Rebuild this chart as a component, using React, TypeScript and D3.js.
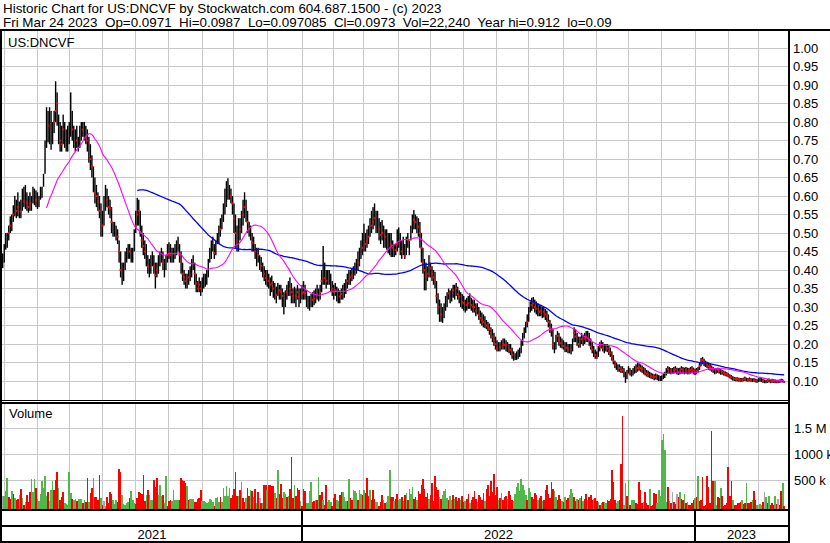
import React from 'react';
import * as d3 from 'd3';

const TITLE = 'Historic Chart for US:DNCVF by Stockwatch.com 604.687.1500 - (c) 2023';
const SUBTITLE = 'Fri Mar 24 2023  Op=0.0971  Hi=0.0987  Lo=0.097085  Cl=0.0973  Vol=22,240  Year hi=0.912  lo=0.09';
const SYMBOL = 'US:DNCVF';
const VOLUME_TITLE = 'Volume';
const FIRST_SESSION = [2021, 2, 31];
const PRICE_TICKS = [1.0, 0.95, 0.9, 0.85, 0.8, 0.75, 0.7, 0.65, 0.6, 0.55, 0.5, 0.45, 0.4, 0.35, 0.3, 0.25, 0.2, 0.15, 0.1];
const VOLUME_TICKS_K = [500, 1000, 1500];
const VOLUME_TICK_LABELS = ['500 k', '1000 k', '1.5 M'];
const MA_SHORT = 30;
const MA_LONG = 90;

// prices in thousandths of a dollar, one per weekday session
const CLOSE_MILLI = [
  420,440,480,470,500,520,528,550,573,560, 570,550,558,580,585,590,580,570,580,570,
  600,600,590,575,580,615,610,630,700,750, 790,820,740,780,800,830,850,780,750,740,
  780,760,730,750,760,820,780,760,740,750, 730,760,780,780,800,760,750,730,700,680,
  640,610,600,585,560,550,520,580,600,590, 570,565,530,500,510,500,490,450,400,380,
  390,420,440,450,450,430,440,480,520,550, 560,500,480,465,450,436,410,395,420,432,
  410,386,400,415,427,436,420,400,420,440, 445,440,432,440,450,465,472,440,427,390,
  380,370,368,380,391,400,418,390,364,350, 360,350,360,370,375,378,400,430,457,470,
  446,460,480,495,510,530,553,580,600,618, 610,600,580,540,500,480,480,510,530,550,
  570,562,530,510,504,474,470,450,432,440, 420,411,400,390,378,380,370,360,364,350,
  340,332,350,345,341,330,310,320,340,357, 350,340,330,332,330,340,328,330,337,340,
  337,320,310,308,315,320,324,330,335,332, 340,370,400,378,370,385,382,370,350,341,
  345,335,330,328,335,340,341,350,370,382, 380,385,391,400,410,420,427,450,460,477,
  470,480,490,510,520,530,540,520,530,510, 495,500,480,490,480,472,470,468,460,450,
  454,470,480,459,450,465,438,460,480,450, 500,520,535,530,520,517,500,460,420,400,
  382,390,400,405,390,380,373,330,300,287, 280,274,290,310,320,337,330,332,345,341,
  350,335,328,320,314,310,300,305,310,312, 305,300,300,290,296,280,270,265,260,255,
  250,247,240,230,220,211,200,188,190,192, 195,200,198,197,190,185,184,170,162,161,
  165,172,176,190,211,230,245,260,280,300, 305,310,300,296,290,287,290,285,287,280,
  274,260,245,238,200,184,200,222,210,202, 200,195,188,190,185,183,182,200,230,220,
  210,200,205,213,210,215,220,220,210,193, 185,178,170,164,180,193,200,190,184,190,
  188,180,175,166,155,143,140,132,135,130, 130,120,107,120,132,125,119,125,130,132,
  135,137,135,132,128,125,120,118,114,113, 112,110,112,110,108,105,107,112,115,125,
  132,130,128,128,130,132,128,125,128,132, 130,128,130,128,128,130,132,128,125,128,
  130,140,155,157,150,148,143,140,138,132, 130,125,128,130,128,125,125,122,119,118,
  115,112,110,107,106,105,105,104,103,103, 104,105,104,103,104,103,102,103,101,100,
  102,103,102,100,99,98,100,100,99,100, 100,99,98,98,99,100,100,97.3
];

const HIGH_MILLI = [
  445,470,500,500,520,545,550,575,600,590, 610,585,590,620,625,630,610,600,610,600,
  625,620,615,610,600,625,625,660,750,840, 830,840,830,800,830,910,880,820,800,790,
  820,800,780,790,800,880,830,790,780,790, 760,790,800,800,800,790,780,760,740,710,
  680,650,630,610,600,580,560,600,630,620, 600,590,570,530,530,520,510,480,450,420,
  420,450,460,470,470,460,460,510,560,595, 590,560,520,500,480,470,440,430,440,450,
  440,420,420,440,450,460,450,430,440,470, 475,470,460,460,470,480,490,470,450,420,
  400,390,390,400,410,430,440,420,390,370, 380,370,380,390,390,400,430,460,480,490,
  470,480,500,520,540,550,580,620,640,648, 630,620,600,580,550,520,540,540,560,590,
  610,590,560,530,520,500,490,470,460,460, 440,435,420,410,400,400,390,380,385,370,
  365,355,365,360,360,350,340,345,360,370, 380,365,350,355,350,360,350,350,360,370,
  360,345,330,330,335,340,345,350,360,350, 360,400,465,420,400,400,400,390,370,360,
  365,355,350,345,350,360,365,375,390,400, 400,405,410,420,430,450,460,480,500,525,
  500,510,520,540,560,570,580,560,560,540, 530,535,520,510,510,500,500,500,480,470,
  470,510,515,500,480,490,470,490,500,480, 520,550,562,550,545,540,530,500,460,430,
  420,410,440,420,410,400,395,370,337,320, 310,300,310,330,340,350,345,350,360,360,
  365,355,345,340,335,330,320,325,330,337, 325,320,320,310,310,300,290,285,280,275,
  265,260,255,245,240,230,220,210,205,205, 210,215,215,210,205,200,200,190,180,175,
  180,185,190,210,230,245,260,280,300,315, 325,327,320,315,310,305,305,300,300,295,
  290,280,265,255,240,205,225,235,230,220, 215,210,205,205,200,200,200,215,245,240,
  230,220,220,230,225,230,235,235,230,215, 205,195,185,180,195,205,210,205,200,200,
  200,195,190,180,170,155,150,145,145,140, 140,135,125,130,140,135,130,135,140,145,
  150,148,145,142,138,135,130,128,125,122, 120,118,120,118,116,114,115,120,125,135,
  140,138,135,135,138,140,136,135,136,140, 138,136,138,136,135,138,140,136,133,135,
  138,150,162,165,160,155,152,150,148,142, 138,133,134,136,135,132,130,128,126,124,
  121,118,116,113,111,110,110,109,108,108, 109,112,109,108,110,108,107,108,106,105,
  108,110,108,106,104,103,106,107,104,106, 105,104,103,103,104,106,105,98.7
];

const LOW_MILLI = [
  405,420,455,460,480,500,505,530,545,540, 545,540,540,560,570,565,560,555,560,560,
  580,575,570,565,570,590,595,625,660,730, 745,740,725,740,770,800,790,740,720,720,
  740,730,720,720,740,760,750,730,720,730, 720,730,750,760,750,740,720,690,670,650,
  610,580,570,560,540,490,490,520,560,570, 550,540,500,490,490,480,470,420,380,360,
  370,400,420,430,430,420,420,450,500,520, 520,490,460,440,430,410,390,380,390,410,
  390,350,380,390,410,420,400,380,400,420, 430,420,420,420,430,440,450,420,390,370,
  360,350,350,360,370,380,400,360,340,340, 340,330,340,350,355,360,380,420,430,450,
  430,440,470,470,490,510,530,550,570,590, 590,580,550,500,460,450,450,480,500,520,
  540,530,500,490,480,450,450,430,410,420, 400,395,380,370,360,355,350,330,340,325,
  320,310,330,320,320,300,280,300,320,330, 330,310,310,310,300,320,300,310,320,320,
  320,300,295,290,300,300,305,310,320,315, 320,340,360,360,350,360,360,340,330,320,
  330,315,310,310,320,320,325,335,350,360, 360,370,375,385,390,400,410,430,440,450,
  450,460,470,490,500,510,520,500,500,480, 470,480,460,460,455,445,440,435,435,435,
  440,450,460,440,430,440,430,440,460,440, 480,500,510,510,500,490,460,420,390,345,
  345,370,380,380,370,360,350,310,280,260, 260,257,270,290,300,320,310,315,325,320,
  330,320,310,300,295,290,285,290,295,295, 290,285,285,275,280,265,255,250,245,243,
  240,235,225,215,205,195,185,180,180,180, 185,185,185,180,178,175,170,160,155,157,
  157,160,165,175,195,215,230,245,260,285, 290,295,285,280,275,275,275,270,272,265,
  260,245,230,220,185,175,185,205,195,190, 188,185,178,178,175,175,172,180,205,205,
  195,190,190,200,195,200,205,205,195,185, 175,165,160,160,165,180,188,180,175,180,
  178,170,165,155,145,135,130,125,125,122, 122,110,95,105,120,115,112,115,120,122,
  125,128,125,122,118,115,112,110,108,106, 105,102,104,102,100,100,100,105,108,115,
  122,120,118,120,120,122,118,116,118,120, 120,118,120,118,118,120,122,118,116,118,
  122,130,140,145,140,138,135,130,128,125, 122,118,120,122,120,117,117,115,113,112,
  110,107,104,101,100,99,99,98,98,98, 99,100,99,98,99,98,97,98,96,95,
  97,98,97,95,94,94,95,96,94,95, 95,94,94,94,95,96,96,97.085
];

// volume in thousands of shares, one per session
const VOLUME_K = [
  210,210,305,550,190,150,305,245,170,135, 150,230,340,170,40,95,230,95,285,530,
  285,530,360,150,115,245,495,360,590,210, 285,115,325,495,325,515,665,360,135,190,
  285,75,55,40,665,265,150,135,150,115, 150,150,150,75,135,95,550,95,265,360,
  550,190,190,135,610,170,40,115,20,190, 75,285,245,135,55,135,95,720,665,230,
  55,40,75,95,170,305,135,75,55,170, 285,265,245,610,115,230,325,230,135,135,
  515,380,550,230,420,210,230,75,590,20, 115,135,115,325,135,135,135,135,550,515,
  495,455,400,135,150,150,150,95,95,150, 170,325,115,115,95,75,95,150,135,95,
  20,170,190,95,190,95,360,210,400,210, 360,170,230,340,665,210,210,325,475,170,
  95,170,360,210,325,305,190,340,75,285, 170,75,75,420,420,325,420,420,400,400,
  265,170,705,245,435,170,285,245,190,210, 340,950,170,420,210,360,325,115,20,340,
  305,75,75,305,475,95,115,135,135,570, 230,285,135,40,420,95,135,95,20,170,
  245,135,115,230,285,285,190,115,115,530, 170,135,325,305,265,135,325,245,230,325,
  265,550,210,325,135,325,150,95,95,20, 95,230,135,75,95,210,705,190,190,115,
  150,245,135,
  150,190,115,230,265,135,340,245,380,150, 190,135,305,245,420,530,340,190,265,150,
  230,455,115,590,380,325,190,150,230,305, 340,170,135,210,135,230,150,190,115,170,
  135,210,95,115,150,245,75,135,190,305, 150,95,230,190,135,265,115,340,420,210,
  495,285,625,230,380,135,170,265,135,190, 210,150,305,230,135,115,245,380,455,305,
  530,420,325,230,135,360,285,190,150,265, 230,135,170,210,115,135,325,420,245,170,
  475,340,305,190,135,230,150,115,95,190, 135,170,230,340,265,190,115,150,135,170,
  210,115,150,245,135,190,230,135,150,170,115,95,
  40,75,95,95,75,135,115,150,705,475, 135,75,115,135,815,1730,40,455,210,515,
  40,135,135,135,75,55,475,325,75,95, 285,75,40,340,20,40,265,245,75,325,
  210,1275,1385,1085,95,380,115,75,285,95, 55,245,190,285,150,135,245,75,95,40,
  40,75,135,170,190,590,115,135,570,20, 40,590,380,75,1445,495,495,40,190,170,
  360,210,20,40,75,760,210,495,135,40, 40,75,75,95,135,55,75,455,75,75,
  95,135,305,135,40,40,55,40,95,285, 190,75,210,40,75,40,210,55,150,40,
  305,455,22
];

// g = up session, r = down session, n = unchanged
const VOLUME_DIR = [
  'ngggrrgrgr','rgrgrgrrrg','ggrggggggg','rnggrrrgrr','rgggggrggr','gggrgrrgrr','grrrrgrngr',
  'rrrgggrrrg','ggggrgggrr','rrrrrgrggg','rrrgggrggr','rrgggggrrr','rrgrgggrrr','rrgggggggg',
  'rgggrggggg','grrrrrgrgr','rgrrgrgrgr','nrgrrgrrrr','grgrrrggrg','rrrgrrrgrr','rggggrrgrg',
  'rrgrrgggrr','rggrrgggrg','rrgggrggrg','rrrgrrrggr','rrgrgggrrg','rrg',
  'grgrgrgggr','rgrrrrrrrg','rrrrrrgrgg','ggrggrgrrr','grrgrrgrrr','rgrrrrgrrr','rrrrrgrgrr',
  'rgrrrggggg','ggggrggrrr','rgrrgrrrrr','rrggrrrgrg','rrgggrrgrg','rgrrgrrrgrrg',
  'rgrggrrrrr','rggrrrggrg','rgggrrrrrg','rrrgrrrrgg','gggggrgrnr','rnrgrrgrgr','rrrgrgrrrr',
  'rrrrrrggrr','grrrrrrrgr','rrrrgrrgrr','rgrrgnggrn','grgrrrgrnr','rgr'
].join('');

const W = 830;
const H = 543;
const PLOT_L = 2;
const PLOT_R = 788;
const PRICE_TOP = 31;
const PRICE_BOTTOM = 400;
const VOL_TOP = 403;
const VOL_BOTTOM = 509;
const FONT = '"Liberation Sans", Arial, Helvetica, sans-serif';
const GRID = '#c8c8c8';
const UP = '#50b848';
const DOWN = '#ff0000';
const FLAT = '#a8a8a8';

function sma(values: number[], n: number): (number | null)[] {
  const out: (number | null)[] = [];
  let sum = 0;
  for (let i = 0; i < values.length; i++) {
    sum += values[i];
    if (i >= n) sum -= values[i - n];
    out.push(i >= n - 1 ? sum / n : null);
  }
  return out;
}

export default function App() {
  const N = CLOSE_MILLI.length;
  const close = CLOSE_MILLI.map((v) => v / 1000);
  const high = HIGH_MILLI.map((v) => v / 1000);
  const low = LOW_MILLI.map((v) => v / 1000);

  // weekday sessions
  const dates: Date[] = [];
  let d = new Date(FIRST_SESSION[0], FIRST_SESSION[1], FIRST_SESSION[2]);
  while (dates.length < N) {
    const wd = d.getDay();
    if (wd !== 0 && wd !== 6) dates.push(new Date(d));
    d = d3.timeDay.offset(d, 1);
  }
  const monthStarts: number[] = [];
  const yearStarts: number[] = [];
  dates.forEach((dt, i) => {
    if (i === 0) {
      monthStarts.push(0);
      return;
    }
    if (dt.getMonth() !== dates[i - 1].getMonth()) monthStarts.push(i);
    if (dt.getFullYear() !== dates[i - 1].getFullYear()) yearStarts.push(i);
  });

  const x = d3.scaleLinear().domain([yearStarts[0], yearStarts[1]]).range([302, 695]);
  const step = x(1) - x(0);
  const y = d3.scaleLinear().domain([0.1, 1.0]).range([381, 48]);
  const yv = d3.scaleLinear().domain([0, 1500]).range([507, 428]);

  const maS = sma(close, MA_SHORT);
  const maL = sma(close, MA_LONG);
  const line = d3
    .line<number | null>()
    .defined((v) => v !== null)
    .x((_, i) => x(i))
    .y((v) => y(v as number));

  const years = dates.map((dt) => dt.getFullYear());
  const yearBounds = [PLOT_L, ...yearStarts.map((i) => x(i)), PLOT_R];
  const yearLabels = [years[0], ...yearStarts.map((i) => years[i])];

  const monthX = monthStarts.map((i) => x(i)).filter((v) => v > PLOT_L + 1 && v < PLOT_R);

  return (
    <div>
      <style>{`body{margin:0}`}</style>
      <svg width={W} height={H} style={{ display: 'block', fontFamily: FONT }}>
        <defs>
          <clipPath id="pclip">
            <rect x={PLOT_L} y={PRICE_TOP} width={PLOT_R - PLOT_L} height={PRICE_BOTTOM - PRICE_TOP} />
          </clipPath>
          <clipPath id="vclip">
            <rect x={PLOT_L} y={VOL_TOP} width={PLOT_R - PLOT_L} height={VOL_BOTTOM - VOL_TOP} />
          </clipPath>
        </defs>
        <rect x={0} y={0} width={W} height={H} fill="#fff" />

        <text x={3} y={12.5} fontSize={13.4} fill="#000">{TITLE}</text>
        <text x={3} y={26.5} fontSize={13.4} fill="#000" style={{ whiteSpace: 'pre' }}>{SUBTITLE}</text>

        {/* grid */}
        <g stroke={GRID} strokeWidth={1} shapeRendering="crispEdges">
          {PRICE_TICKS.map((t) => (
            <line key={'hp' + t} x1={PLOT_L} x2={PLOT_R} y1={y(t)} y2={y(t)} />
          ))}
          {VOLUME_TICKS_K.map((t) => (
            <line key={'hv' + t} x1={PLOT_L} x2={PLOT_R} y1={yv(t)} y2={yv(t)} />
          ))}
          {monthX.map((mx, k) => (
            <g key={'m' + k}>
              <line x1={mx} x2={mx} y1={PRICE_TOP} y2={PRICE_BOTTOM} />
              <line x1={mx} x2={mx} y1={VOL_TOP} y2={VOL_BOTTOM} />
            </g>
          ))}
        </g>

        {/* price bars */}
        <g clipPath="url(#pclip)">
          {close.map((c, i) => (
            <rect
              key={'b' + i}
              x={x(i) - 0.7}
              width={1.4}
              y={y(high[i])}
              height={Math.max(1, y(low[i]) - y(high[i]))}
              fill="#000"
            />
          ))}
          {close.map((c, i) =>
            VOLUME_DIR[i] === 'r' ? (
              <rect key={'c' + i} x={x(i) - 1} y={y(c) - 1} width={2} height={2} fill="#ff0000" />
            ) : null
          )}
          <path d={line(maL) || ''} fill="none" stroke="#0000ff" strokeWidth={1.3} />
          <path d={line(maS) || ''} fill="none" stroke="#ff00ff" strokeWidth={1.1} />
        </g>

        {/* volume bars */}
        <g clipPath="url(#vclip)" shapeRendering="crispEdges">
          {dates.map((_, i) => {
            const v = VOLUME_K[i] ?? 0;
            const dir = VOLUME_DIR[i] || 'n';
            const top = yv(v);
            return (
              <rect
                key={'v' + i}
                x={x(i) - step / 2}
                width={step + 0.1}
                y={top}
                height={VOL_BOTTOM - top}
                fill={dir === 'g' ? UP : dir === 'r' ? DOWN : FLAT}
              />
            );
          })}
        </g>

        {/* frame */}
        <g fill="#000" shapeRendering="crispEdges">
          <rect x={0} y={29} width={W} height={2} />
          <rect x={0} y={29} width={2} height={H - 29} />
          <rect x={PLOT_R} y={29} width={2} height={H - 29} />
          <rect x={0} y={400} width={PLOT_R + 2} height={1} />
          <rect x={0} y={402} width={PLOT_R + 2} height={2} />
          <rect x={0} y={509} width={PLOT_R + 2} height={2} />
          <rect x={0} y={525} width={PLOT_R + 2} height={2} />
          <rect x={0} y={541} width={PLOT_R + 2} height={2} />
          {yearStarts.map((i) => (
            <rect key={'ys' + i} x={Math.round(x(i)) - 1} y={511} width={1.5} height={30} />
          ))}
        </g>

        {/* labels */}
        <text x={8} y={47} fontSize={13} fill="#000">{SYMBOL}</text>
        <text x={9} y={418} fontSize={13} fill="#000">{VOLUME_TITLE}</text>
        {PRICE_TICKS.map((t) => (
          <text key={'pl' + t} x={793} y={y(t) + 4.5} fontSize={13} fill="#000">
            {t.toFixed(2)}
          </text>
        ))}
        {VOLUME_TICKS_K.map((t, k) => (
          <text key={'vl' + t} x={794} y={yv(t) + 4.5} fontSize={13} fill="#000">
            {VOLUME_TICK_LABELS[k]}
          </text>
        ))}
        {yearLabels.map((yr, k) => (
          <text
            key={'yl' + yr}
            x={(yearBounds[k] + yearBounds[k + 1]) / 2}
            y={539}
            fontSize={13}
            textAnchor="middle"
            fill="#000"
          >
            {yr}
          </text>
        ))}
      </svg>
    </div>
  );
}
